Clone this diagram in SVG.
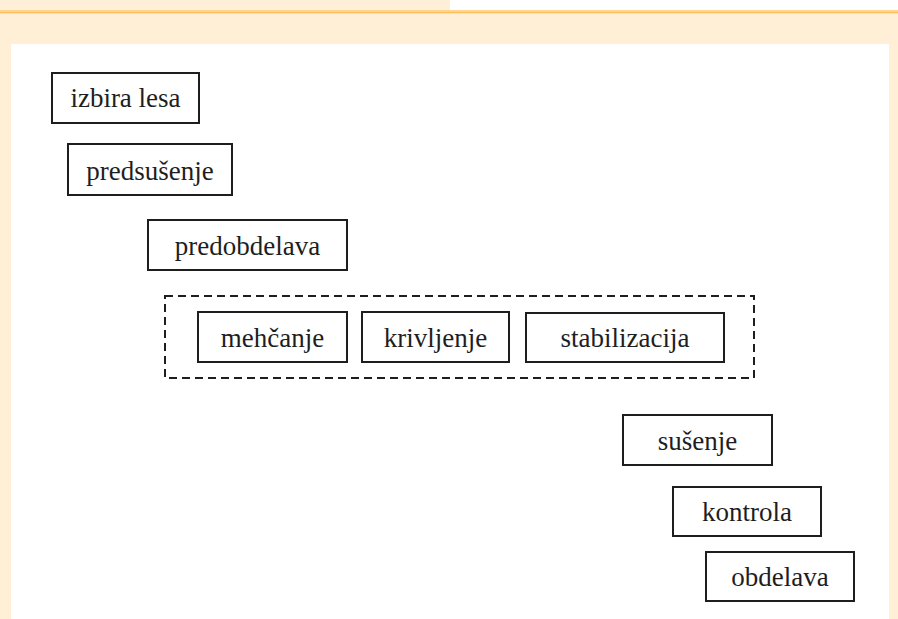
<svg xmlns="http://www.w3.org/2000/svg" width="898" height="619" viewBox="0 0 898 619">
<style>
.box{fill:#fff;stroke:#1e1e1e;stroke-width:2}
.lbl{font-family:"Liberation Serif","Times New Roman",serif;font-size:27px;fill:#1e1e1e;text-anchor:middle}
</style>
<rect x="0" y="0" width="898" height="619" fill="#fff"/>
<rect x="0" y="0" width="450" height="11" fill="#FFEFD6"/>
<rect x="0" y="13" width="898" height="606" fill="#FFEFD6"/>
<rect x="0" y="10" width="898" height="1.5" fill="#FFD58F"/>
<rect x="0" y="11.5" width="898" height="1.8" fill="#FDBE5E"/>
<rect x="11" y="44" width="878" height="575" fill="#fff"/>
<g id="connectors"></g>
<g id="group-dashed">
<rect x="165" y="296" width="589" height="82" fill="none" stroke="#1e1e1e" stroke-width="2" stroke-dasharray="8 5"/>
</g>
<g id="izbira"><rect class="box" x="52" y="73" width="147" height="50"/><text class="lbl" x="125.5" y="107">izbira lesa</text></g>
<g id="predsusenje"><rect class="box" x="68" y="144" width="164" height="51"/><text class="lbl" x="150" y="180">predsušenje</text></g>
<g id="predobdelava"><rect class="box" x="148" y="220" width="199" height="50"/><text class="lbl" x="247.5" y="255">predobdelava</text></g>
<g id="mehcanje"><rect class="box" x="198" y="312" width="149" height="50"/><text class="lbl" x="272.5" y="347">mehčanje</text></g>
<g id="krivljenje"><rect class="box" x="362" y="312" width="147" height="50"/><text class="lbl" x="435.5" y="347">krivljenje</text></g>
<g id="stabilizacija"><rect class="box" x="526" y="313" width="198" height="49"/><text class="lbl" x="625" y="347">stabilizacija</text></g>
<g id="susenje"><rect class="box" x="623" y="415" width="149" height="50"/><text class="lbl" x="697.5" y="450">sušenje</text></g>
<g id="kontrola"><rect class="box" x="673" y="487" width="148" height="49"/><text class="lbl" x="747" y="521">kontrola</text></g>
<g id="obdelava"><rect class="box" x="706" y="552" width="148" height="49"/><text class="lbl" x="780" y="586">obdelava</text></g>
</svg>
